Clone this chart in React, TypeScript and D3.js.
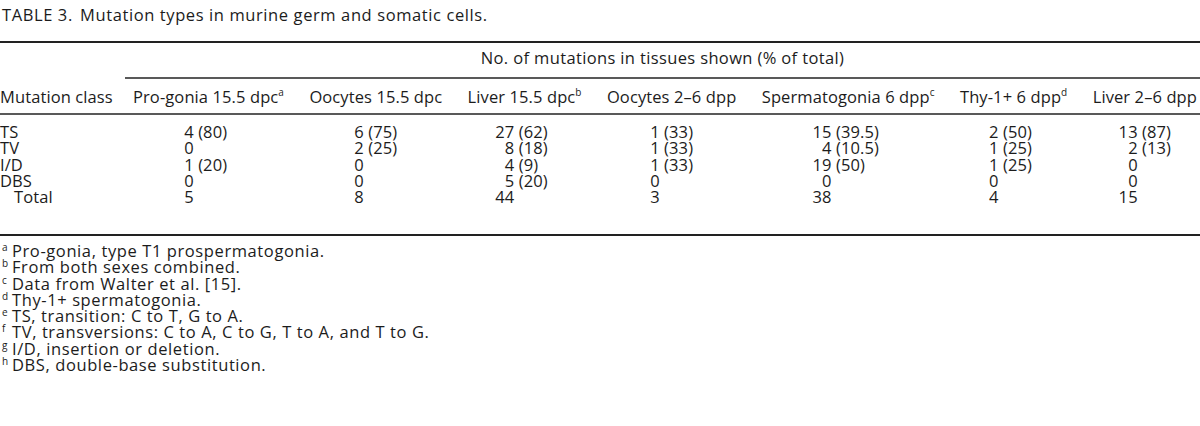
import React, { useEffect, useRef } from 'react';
import * as d3 from 'd3';

const title = 'TABLE 3.';
const caption = 'Mutation types in murine germ and somatic cells.';
const spannerLabel = 'No. of mutations in tissues shown (% of total)';
const stubHeader = 'Mutation class';

const tissues = [
  'Pro-gonia 15.5 dpc',
  'Oocytes 15.5 dpc',
  'Liver 15.5 dpc',
  'Oocytes 2–6 dpp',
  'Spermatogonia 6 dpp',
  'Thy-1+ 6 dpp',
  'Liver 2–6 dpp',
];
const tissueNotes = ['a', '', 'b', '', 'c', 'd', ''];

const mutationClasses = ['TS', 'TV', 'I/D', 'DBS', 'Total'];

// counts per tissue, in the order of mutationClasses
const counts = [
  [4, 0, 1, 0, 5],
  [6, 2, 0, 0, 8],
  [27, 8, 4, 5, 44],
  [1, 1, 1, 0, 3],
  [15, 4, 19, 0, 38],
  [2, 1, 1, 0, 4],
  [13, 2, 0, 0, 15],
];
// % of total, null where the table shows none
const percents = [
  [80, null, 20, null, null],
  [75, 25, null, null, null],
  [62, 18, 9, 20, null],
  [33, 33, 33, null, null],
  [39.5, 10.5, 50, null, null],
  [50, 25, 25, null, null],
  [87, 13, null, null, null],
];

const footnoteMarks = ['a', 'b', 'c', 'd', 'e', 'f', 'g', 'h'];
const footnotes = [
  'Pro-gonia, type T1 prospermatogonia.',
  'From both sexes combined.',
  'Data from Walter et al. [15].',
  'Thy-1+ spermatogonia.',
  'TS, transition: C to T, G to A.',
  'TV, transversions: C to A, C to G, T to A, and T to G.',
  'I/D, insertion or deletion.',
  'DBS, double-base substitution.',
];

const W = 1200;
const H = 426;
const FONT = '"Open Sans", "DejaVu Sans", sans-serif';
const FS = 16.5;
const TRACK = 0.1;      // table body
const TRACK_TEXT = 0.6; // caption and footnotes
const INK = '#1c1c1c';

export default function App() {
  const svgRef = useRef<SVGSVGElement>(null);

  useEffect(() => {
    document.body.style.margin = '0';
    if (!svgRef.current) return;
    const svg = d3.select(svgRef.current);
    svg.selectAll('*').remove();
    svg.attr('font-family', FONT)
      .attr('font-size', FS)
      .attr('letter-spacing', TRACK)
      .attr('fill', INK);

    const rule = (x1: number, x2: number, y: number, w = 1.6) =>
      svg.append('line')
        .attr('x1', x1).attr('x2', x2)
        .attr('y1', y).attr('y2', y)
        .attr('stroke', '#222').attr('stroke-width', w);

    const measure = (s: string) => {
      const tmp = svg.append('text').text(s);
      const w = (tmp.node() as SVGTextElement).getComputedTextLength();
      tmp.remove();
      return w;
    };

    // title
    svg.append('text').attr('x', 2).attr('y', 21).attr('letter-spacing', TRACK_TEXT).text(title);
    svg.append('text').attr('x', 80).attr('y', 21).attr('letter-spacing', TRACK_TEXT).text(caption);

    rule(0, W, 42, 1.8);

    // header row: tissue headers laid out left to right, gaps spread to fill
    const headerY = 103;
    const firstX = 133;
    const lastX = 1197;
    svg.append('text').attr('x', 0).attr('y', headerY).text(stubHeader);

    const heads = tissues.map((t, i) => {
      const g = svg.append('text').attr('y', headerY);
      g.append('tspan').text(t);
      if (tissueNotes[i]) {
        g.append('tspan')
          .attr('font-size', 10)
          .attr('dy', -7)
          .text(tissueNotes[i]);
      }
      return g;
    });
    const widths = heads.map(h => (h.node() as SVGTextElement).getComputedTextLength());
    const gap = (lastX - firstX - d3.sum(widths)) / (tissues.length - 1);
    const starts: number[] = [];
    let cx = firstX;
    widths.forEach(w => { starts.push(cx); cx += w + gap; });
    heads.forEach((h, i) => h.attr('x', starts[i]));
    // centre of each header, superscript left out
    const centers = starts.map((s, i) => s + measure(tissues[i]) / 2);

    // spanner
    const spanStart = starts[0] - 8;
    rule(spanStart, W, 78, 1.4);
    svg.append('text')
      .attr('x', (spanStart + W) / 2)
      .attr('y', 64)
      .attr('text-anchor', 'middle')
      .attr('letter-spacing', TRACK_TEXT * 0.6)
      .text(spannerLabel);

    rule(0, W, 114, 1.4);

    // body rows
    const y = d3.scalePoint<string>()
      .domain(mutationClasses)
      .range([138, 203]);

    mutationClasses.forEach(m => {
      svg.append('text')
        .attr('x', m === 'Total' ? 14 : 0)
        .attr('y', y(m)!)
        .text(m);
    });

    const space = measure('0 (') - measure('0(');

    tissues.forEach((t, c) => {
      const ints = counts[c].map(v => String(v));
      const pars = percents[c].map(p => (p == null ? '' : `(${p})`));
      const maxInt = d3.max(ints, measure) || 0;
      const maxPar = d3.max(pars, measure) || 0;
      const total = maxInt + (maxPar > 0 ? space + maxPar : 0);
      const anchor = centers[c] - total / 2 + maxInt;
      mutationClasses.forEach((m, r) => {
        svg.append('text')
          .attr('x', anchor)
          .attr('y', y(m)!)
          .attr('text-anchor', 'end')
          .text(ints[r]);
        if (pars[r]) {
          svg.append('text')
            .attr('x', anchor + space)
            .attr('y', y(m)!)
            .text(pars[r]);
        }
      });
    });

    rule(0, W, 235, 1.8);

    // footnotes
    const fy = d3.scaleLinear().domain([0, footnotes.length - 1]).range([257, 371]);
    footnotes.forEach((f, i) => {
      svg.append('text')
        .attr('x', 2)
        .attr('y', fy(i) - 6)
        .attr('font-size', 10)
        .attr('letter-spacing', 0)
        .text(footnoteMarks[i]);
      svg.append('text')
        .attr('x', 12)
        .attr('y', fy(i))
        .attr('letter-spacing', TRACK_TEXT)
        .text(f);
    });
  }, []);

  return <svg ref={svgRef} width={W} height={H} style={{ display: 'block', background: '#fff' }} />;
}
